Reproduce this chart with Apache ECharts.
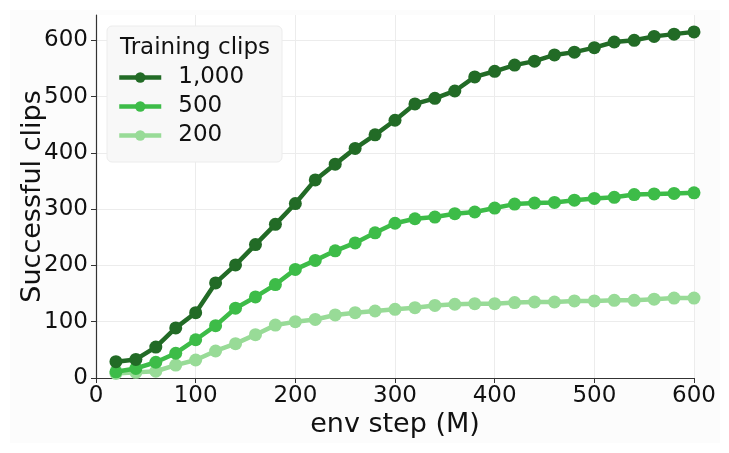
<!DOCTYPE html>
<html>
<head>
<meta charset="utf-8">
<script src="https://cdn.jsdelivr.net/npm/echarts@6/dist/echarts.min.js"></script>
<style>
  html, body { margin: 0; padding: 0; background: #fff; }
  #main { width: 729px; height: 453px; }
</style>
</head>
<body>
<div id="main"></div>
<script>
    "use strict";

    // env steps (M)
    var steps = [20, 40, 60, 80, 100, 120, 140, 160, 180, 200,
                 220, 240, 260, 280, 300, 320, 340, 360, 380, 400,
                 420, 440, 460, 480, 500, 520, 540, 560, 580, 600];

    var clips1000 = [29, 33, 55, 89, 116, 169, 201, 237, 273, 310,
                     352, 380, 408, 432, 458, 487, 497, 510, 535, 545,
                     556, 563, 574, 579, 587, 597, 600, 607, 611, 615];
    var clips500 = [11, 17, 28, 44, 68, 93, 124, 144, 166, 193,
                    209, 226, 240, 258, 275, 283, 286, 292, 295, 302,
                    309, 311, 312, 316, 319, 321, 326, 327, 328, 329];
    var clips200 = [8, 10, 12, 23, 32, 48, 61, 77, 94, 100,
                    104, 112, 116, 119, 122, 125, 129, 131, 132, 132,
                    134, 135, 135, 137, 137, 138, 138, 140, 142, 142];

    var seriesNames = ['1,000', '500', '200'];
    var seriesColors = ['#226b26', '#3dbc48', '#98db97'];
    var seriesData = [clips1000, clips500, clips200];

    var FONT = 'DejaVu Sans';

    function make_series(idx) {
        return {
            name: seriesNames[idx],
            type: 'line',
            data: steps.map(function(s, i) { return [s, seriesData[idx][i]]; }),
            symbol: 'circle',
            symbolSize: 13,
            z: 10 - idx,
            lineStyle: { width: 4.5, color: seriesColors[idx] },
            itemStyle: { color: seriesColors[idx] },
            emphasis: { disabled: true }
        };
    }

    var chart = echarts.init(document.getElementById('main'));
    var option = {
        backgroundColor: '#ffffff',
        animation: false,
        textStyle: { fontFamily: FONT },
        graphic: [
            {
                type: 'rect', z: -10, silent: true,
                shape: { x: 10, y: 10, width: 710, height: 433 },
                style: { fill: '#fcfcfc' }
            },
            {
                type: 'rect', z: 50, silent: true,
                shape: { x: 107, y: 26, width: 175, height: 136, r: 5 },
                style: { fill: '#f8f8f8', stroke: '#ececec', lineWidth: 1 }
            },
            {
                type: 'text', z: 51, silent: true,
                x: 195, y: 48,
                style: {
                    text: 'Training clips', fill: '#111', fontSize: 23,
                    fontFamily: FONT, align: 'center', verticalAlign: 'middle'
                }
            }
        ],
        grid: {
            left: 96, right: 35, top: 15, bottom: 75,
            outerBoundsMode: 'none',
            backgroundColor: '#fff', show: true, borderWidth: 0
        },
        legend: {
            orient: 'vertical',
            left: 117, top: 66,
            padding: 0,
            itemWidth: 42, itemHeight: 13, itemGap: 6,
            z: 60,
            data: seriesNames,
            lineStyle: { width: 4.5 },
            textStyle: { fontSize: 23, lineHeight: 23, color: '#111', fontFamily: FONT, padding: [0, 0, 0, 12] }
        },
        xAxis: {
            type: 'value',
            min: 0, max: 600, interval: 100,
            name: 'env step (M)',
            nameLocation: 'middle', nameGap: 33, nameMoveOverlap: false,
            nameTextStyle: { fontSize: 27, color: '#111', fontFamily: FONT },
            axisLine: { lineStyle: { color: '#333', width: 1.2 } },
            axisTick: { show: true, length: 5, lineStyle: { color: '#333' } },
            axisLabel: { fontSize: 23, color: '#111', margin: 7, fontFamily: FONT },
            splitLine: { show: true, lineStyle: { color: '#ececec', width: 1 } }
        },
        yAxis: {
            type: 'value',
            min: 0, max: 645, interval: 100,
            name: 'Successful clips',
            nameLocation: 'middle', nameGap: 50, nameMoveOverlap: false,
            nameTextStyle: { fontSize: 27, color: '#111', fontFamily: FONT },
            axisLine: { show: true, lineStyle: { color: '#333', width: 1.2 } },
            axisTick: { show: true, length: 5, lineStyle: { color: '#333' } },
            axisLabel: {
                fontSize: 23, color: '#111', margin: 8, fontFamily: FONT,
                showMaxLabel: false
            },
            splitLine: { show: true, showMaxLine: false, lineStyle: { color: '#ececec', width: 1 } }
        },
        series: [make_series(0), make_series(1), make_series(2)]
    };
    chart.setOption(option);
</script>
</body>
</html>
